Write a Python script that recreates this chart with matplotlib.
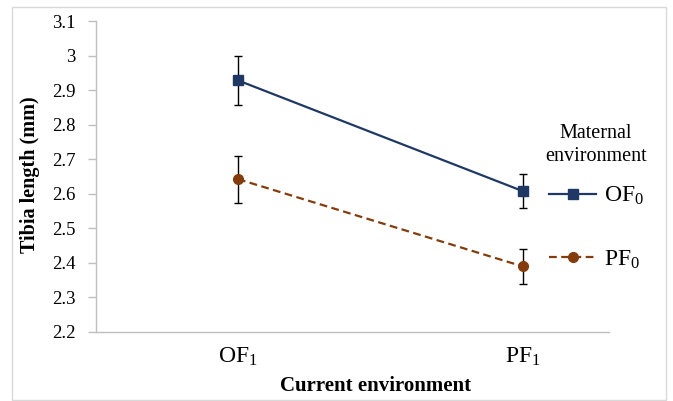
import matplotlib
matplotlib.use("Agg")
import matplotlib.pyplot as plt
import numpy as np
from matplotlib.patches import Rectangle

plt.rcParams['font.family'] = ['Liberation Serif', 'DejaVu Serif']
plt.rcParams['mathtext.fontset'] = 'custom'
plt.rcParams['mathtext.rm'] = 'Liberation Serif'
plt.rcParams['mathtext.it'] = 'Liberation Serif:italic'
plt.rcParams['mathtext.bf'] = 'Liberation Serif:bold'

categories = [r'OF$_1$', r'PF$_1$']
series_names = [r'OF$_0$', r'PF$_0$']
of0_mean = [2.928, 2.607]
of0_err = [0.072, 0.050]
pf0_mean = [2.642, 2.389]
pf0_err = [0.068, 0.050]

navy = "#1F3864"
brown = "#843C0C"
grey = "#BFBFBF"

fig = plt.figure(figsize=(6.73, 4.01), dpi=100)
ax = fig.add_axes([96 / 673, 1 - 331.7 / 401, 513 / 673, (331.7 - 21) / 401])

x = np.arange(len(categories))

ax.errorbar(x, of0_mean, yerr=of0_err, fmt='none', ecolor='black',
            elinewidth=1.0, capsize=3.2, capthick=1.0, zorder=2)
ax.errorbar(x, pf0_mean, yerr=pf0_err, fmt='none', ecolor='black',
            elinewidth=1.0, capsize=3.2, capthick=1.0, zorder=2)
ax.plot(x, of0_mean, color=navy, lw=1.6, marker='s', markersize=6.5,
        label=series_names[0], zorder=3)
ax.plot(x, pf0_mean, color=brown, lw=1.6, ls='--', dashes=(3.5, 2),
        marker='o', markersize=7, label=series_names[1], zorder=3)

ax.set_ylim(2.2, 3.1)
ax.set_yticks(np.arange(2.2, 3.101, 0.1))
ax.set_yticklabels(['2.2', '2.3', '2.4', '2.5', '2.6', '2.7', '2.8', '2.9', '3', '3.1'])
ax.set_xlim(-0.498, 1.302)
ax.set_xticks(x)
ax.set_xticklabels(categories)

for s in ['top', 'right']:
    ax.spines[s].set_visible(False)
for s in ['left', 'bottom']:
    ax.spines[s].set_color(grey)
    ax.spines[s].set_linewidth(1.0)

ax.tick_params(axis='y', colors=grey, length=6, width=1.0, pad=9,
               labelsize=13.5, labelcolor='black')
ax.tick_params(axis='x', length=0, pad=10, labelsize=17, labelcolor='black')

fig.text(376 / 673, 1 - 386 / 401, 'Current environment', fontsize=15,
         fontweight='bold', ha='center', va='center')
fig.text(30 / 673, 1 - 175 / 401, 'Tibia length (mm)', fontsize=14.5,
         fontweight='bold', ha='center', va='center', rotation=90)

# legend title as separate text, legend entries below
fig.text(596 / 673, 1 - 145 / 401, 'Maternal\nenvironment', fontsize=14.5,
         ha='center', va='center', multialignment='center', linespacing=1.25)
ax.legend(loc='upper left', bbox_to_anchor=(549 / 673, 1 - 185 / 401),
          bbox_transform=fig.transFigure, frameon=False,
          fontsize=17, handlelength=2.0, handletextpad=0.35,
          labelspacing=1.75, borderpad=0, borderaxespad=0)

fig.add_artist(Rectangle((12 / 673, 1 / 401), 654 / 673, 393 / 401,
                         transform=fig.transFigure, fill=False,
                         edgecolor='#D9D9D9', lw=1.0))

fig.savefig('out.png', dpi=100)
